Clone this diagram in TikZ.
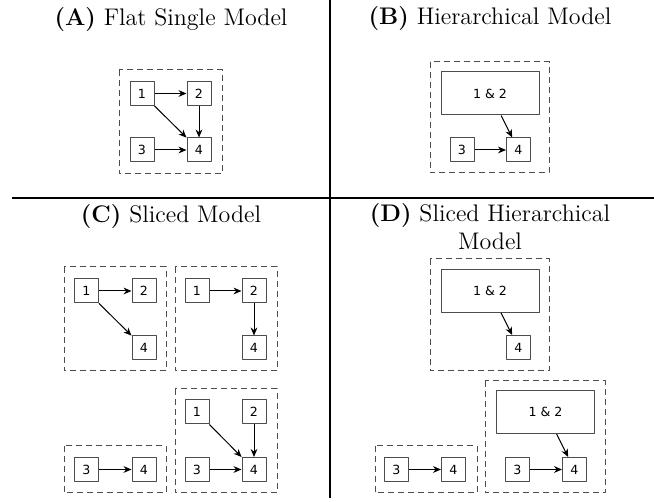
\documentclass[tikz,border=0pt]{standalone}
\usepackage{fontspec}
\newfontfamily\boxfont{DejaVu Sans}
\usepackage{tikz}
\usetikzlibrary{arrows.meta}
\tikzset{
  every picture/.style={
    line join=round,
    >={Stealth[length=4pt,width=3.4pt]},
  },
  var/.style={draw=black!70, line width=0.5pt, minimum size=12pt, inner sep=0pt,
    font=\boxfont\fontsize{6.3}{7}\selectfont},
  group/.style={var, minimum width=49pt, minimum height=21.5pt},
  slice/.style={draw=black!70, line width=0.5pt, dash pattern=on 3pt off 2pt},
  dep/.style={->, line width=0.5pt},
  divider/.style={line width=0.6pt},
  paneltitle/.style={font=\large, anchor=base},
}

\begin{document}
\begin{tikzpicture}[x=0.5pt, y=-0.5pt]
    \useasboundingbox (0,0) rectangle (654,502);

    % Dividers
    \draw[divider] (330,0) -- (330,498);
    \draw[divider] (12,198) -- (654,198);

    % Titles
    \node[paneltitle] (ta) at (171,26) {\textbf{(A)} Flat Single Model};
    \node[paneltitle] (tb) at (490,25) {\textbf{(B)} Hierarchical Model};
    \node[paneltitle] (tc) at (171,223) {\textbf{(C)} Sliced Model};
    \node[paneltitle, align=center] (td) at (490,250) {\textbf{(D)} Sliced Hierarchical\\Model};

    % (A) flat model
    \draw[slice] (119,70) rectangle (222,174);
    \node[var] (a1) at (142,93.5) {1};
    \node[var] (a2) at (199,93.5) {2};
    \node[var] (a3) at (142,150) {3};
    \node[var] (a4) at (199,150) {4};
    \foreach \s/\t in {a1/a2, a2/a4, a1/a4, a3/a4}
        \draw[dep] (\s) -- (\t);

    % (B) hierarchical model
    \draw[slice] (430,62) rectangle (549,173);
    \node[group] (b12) at (490,93.5) {1 \& 2};
    \node[var] (b3) at (462,150) {3};
    \node[var] (b4) at (518.5,150) {4};
    \draw[dep] (b12) -- (b4);
    \draw[dep] (b3) -- (b4);

    % (C) slices of the flat model
    \draw[slice] (64,267) rectangle (166,371);
    \node[var] (c11) at (86.5,291) {1};
    \node[var] (c12) at (144,291) {2};
    \node[var] (c14) at (144,348) {4};
    \draw[dep] (c11) -- (c12);
    \draw[dep] (c11) -- (c14);

    \draw[slice] (175,267) rectangle (277,371);
    \node[var] (c21) at (197,291) {1};
    \node[var] (c22) at (254,291) {2};
    \node[var] (c24) at (254,348) {4};
    \draw[dep] (c21) -- (c22);
    \draw[dep] (c22) -- (c24);

    \draw[slice] (175,389) rectangle (277,493);
    \node[var] (c31) at (197,412) {1};
    \node[var] (c32) at (254,412) {2};
    \node[var] (c33) at (197,469.5) {3};
    \node[var] (c34) at (254,469.5) {4};
    \foreach \s/\t in {c31/c34, c32/c34, c33/c34}
        \draw[dep] (\s) -- (\t);

    \draw[slice] (64,446) rectangle (166,493);
    \node[var] (c43) at (86.5,469.5) {3};
    \node[var] (c44) at (144,469.5) {4};
    \draw[dep] (c43) -- (c44);

    % (D) slices of the hierarchical model
    \draw[slice] (430,259) rectangle (549,371);
    \node[group] (d12) at (490,291) {1 \& 2};
    \node[var] (d14) at (518.5,347.5) {4};
    \draw[dep] (d12) -- (d14);

    \draw[slice] (485,381) rectangle (605,493);
    \node[group] (e12) at (545.5,412) {1 \& 2};
    \node[var] (e3) at (517.5,469.5) {3};
    \node[var] (e4) at (574.5,469.5) {4};
    \draw[dep] (e12) -- (e4);
    \draw[dep] (e3) -- (e4);

    \draw[slice] (375,446) rectangle (477,493);
    \node[var] (f3) at (396.5,469.5) {3};
    \node[var] (f4) at (453.5,469.5) {4};
    \draw[dep] (f3) -- (f4);
\end{tikzpicture}
\end{document}
